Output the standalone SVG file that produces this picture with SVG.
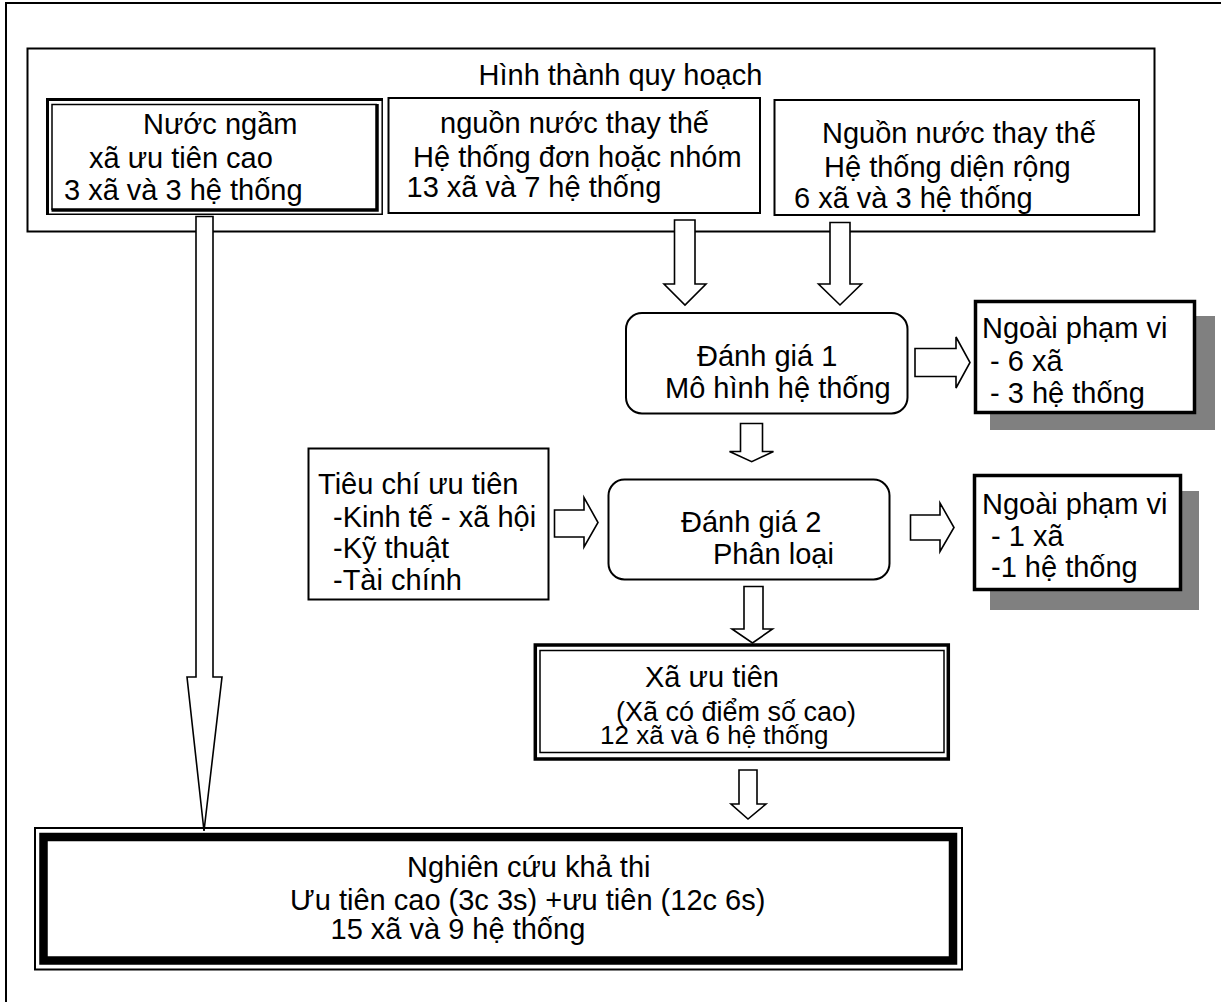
<svg xmlns="http://www.w3.org/2000/svg" width="1221" height="1002" viewBox="0 0 1221 1002">
<style>
text{font-family:"Liberation Sans",Arial,sans-serif;font-size:29px;fill:#000}
.box{fill:#fff;stroke:#000;stroke-width:2}
.thick{fill:#fff;stroke:#000;stroke-width:3.5}
.line{fill:none;stroke:#000}
.shadow{fill:#808080}
.arr{fill:#fff;stroke:#000;stroke-width:1.6;stroke-linejoin:miter}
.sm{font-size:27px}
.sm2{font-size:26px}
</style>
<rect width="1221" height="1002" fill="#fff"/>
<path class="line" stroke-width="2" d="M6,1002 V3 H1221"/>

<g id="quy-hoach">
<rect class="box" x="27.5" y="48.5" width="1127" height="183"/>
<text x="478.5" y="85">Hình thành quy hoạch</text>
</g>

<g id="nuoc-ngam">
<rect x="46" y="98" width="337" height="117" fill="#fff"/>
<path class="line" stroke-width="3" d="M47.5,215 V99.5 H383"/>
<path class="line" stroke-width="1.5" d="M47.5,214.2 H382.2 V99.5"/>
<path class="line" stroke-width="1.5" d="M52,210 V104.5 H377"/>
<path class="line" stroke-width="3.5" d="M51.5,210 H377 V104"/>
<text x="143" y="134">Nước ngầm</text>
<text x="89" y="168">xã ưu tiên cao</text>
<text x="64" y="200">3 xã và 3 hệ thống</text>
</g>

<g id="nguon-nuoc-nhom">
<rect class="box" x="388.5" y="98" width="371.5" height="115"/>
<text x="440" y="133">nguồn nước thay thế</text>
<text x="413" y="167">Hệ thống đơn hoặc nhóm</text>
<text x="406.5" y="197">13 xã và 7 hệ thống</text>
</g>

<g id="nguon-nuoc-rong">
<rect class="box" x="774.5" y="100" width="364.5" height="115"/>
<text x="822" y="143">Nguồn nước thay thế</text>
<text x="824" y="177">Hệ thống diện rộng</text>
<text x="794" y="208">6 xã và 3 hệ thống</text>
</g>

<g id="danh-gia-1">
<rect class="box" x="626" y="313" width="281.5" height="100.5" rx="16"/>
<text x="697" y="366">Đánh giá 1</text>
<text x="665" y="398">Mô hình hệ thống</text>
</g>

<g id="ngoai-pham-vi-1">
<rect class="shadow" x="990" y="316" width="225" height="114"/>
<rect class="thick" x="975.5" y="301.5" width="219" height="111"/>
<text x="982" y="338">Ngoài phạm vi</text>
<text x="990" y="371">- 6 xã</text>
<text x="990" y="403">- 3 hệ thống</text>
</g>

<g id="tieu-chi">
<rect class="box" x="308.5" y="448.5" width="240" height="151"/>
<text x="318" y="494">Tiêu chí ưu tiên</text>
<text x="333" y="527">-Kinh tế - xã hội</text>
<text x="333" y="558">-Kỹ thuật</text>
<text x="333" y="590">-Tài chính</text>
</g>

<g id="danh-gia-2">
<rect class="box" x="608.5" y="479.5" width="281" height="100" rx="16"/>
<text x="681" y="532">Đánh giá 2</text>
<text x="713" y="564">Phân loại</text>
</g>

<g id="ngoai-pham-vi-2">
<rect class="shadow" x="990" y="491" width="209" height="119"/>
<rect class="thick" x="974.5" y="475.5" width="206" height="114"/>
<text x="982" y="514">Ngoài phạm vi</text>
<text x="991" y="546">- 1 xã</text>
<text x="991" y="577">-1 hệ thống</text>
</g>

<g id="xa-uu-tien">
<rect class="thick" x="535.3" y="645" width="413" height="114"/>
<rect x="540" y="650.5" width="404" height="102" fill="none" stroke="#000" stroke-width="1.5"/>
<text x="645" y="687">Xã ưu tiên</text>
<text class="sm" x="616" y="721">(Xã có điểm số cao)</text>
<text class="sm2" x="600" y="744">12 xã và 6 hệ thống</text>
</g>

<g id="nghien-cuu">
<rect x="35" y="828" width="927" height="141.5" fill="#fff" stroke="#000" stroke-width="2"/>
<rect x="43.5" y="837" width="909.5" height="123.5" fill="none" stroke="#000" stroke-width="8.5"/>
<text x="407" y="877">Nghiên cứu khả thi</text>
<text x="290" y="910">Ưu tiên cao (3c 3s) +ưu tiên (12c 6s)</text>
<text x="330.5" y="939">15 xã và 9 hệ thống</text>
</g>

<g id="connectors">
<path class="arr" d="M196,216.5 V677 H187 L204,831 L222,677 H213 V216.5 Z"/>
<path class="arr" d="M674.5,220 V284 H664 L685,305 L706,284 H695 V220 Z"/>
<path class="arr" d="M830,222.5 V284 H818.5 L840,305 L861.5,284 H850 V222.5 Z"/>
<path class="arr" d="M915,348.5 H956 V337 L970,362.5 L956,388 V376.5 H915 Z"/>
<path class="arr" d="M740.5,423.5 V451.5 H729.5 L751.7,461.7 L773.5,451.5 H762.5 V423.5 Z"/>
<path class="arr" d="M554.5,510 H584 V497.5 L598,522.5 L584,547 V537 H554.5 Z"/>
<path class="arr" d="M910.5,515 H940 V503 L954,527.5 L940,551.5 V540 H910.5 Z"/>
<path class="arr" d="M744,586.5 V629 H732 L752.5,643 L772.5,629 H763 V586.5 Z"/>
<path class="arr" d="M739,770 V804 H731 L748,819 L766,804 H757 V770 Z"/>
</g>
</svg>
